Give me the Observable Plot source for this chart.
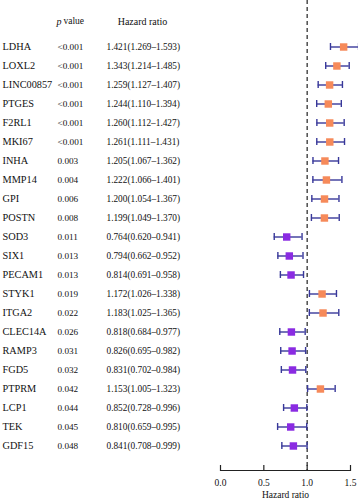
<!DOCTYPE html>
<html><head><meta charset="utf-8">
<script src="https://cdn.jsdelivr.net/npm/d3@7"></script>
<script src="https://cdn.jsdelivr.net/npm/@observablehq/plot@0.6"></script>
<style>body{margin:0;background:#fff}</style>
</head><body><div id="chart"></div>
<script>
const genes = ["LDHA","LOXL2","LINC00857","PTGES","F2RL1","MKI67","INHA","MMP14","GPI","POSTN","SOD3","SIX1","PECAM1","STYK1","ITGA2","CLEC14A","RAMP3","FGD5","PTPRM","LCP1","TEK","GDF15"];
const pvalues = ["<0.001","<0.001","<0.001","<0.001","<0.001","<0.001","0.003","0.004","0.006","0.008","0.011","0.013","0.013","0.019","0.022","0.026","0.031","0.032","0.042","0.044","0.045","0.048"];
const hr    = [1.421,1.343,1.259,1.244,1.260,1.261,1.205,1.222,1.200,1.199,0.764,0.794,0.814,1.172,1.183,0.818,0.826,0.831,1.153,0.852,0.810,0.841];
const lower = [1.269,1.214,1.127,1.110,1.112,1.111,1.067,1.066,1.054,1.049,0.620,0.662,0.691,1.026,1.025,0.684,0.695,0.702,1.005,0.728,0.659,0.708];
const upper = [1.593,1.485,1.407,1.394,1.427,1.431,1.362,1.401,1.367,1.370,0.941,0.952,0.958,1.338,1.365,0.977,0.982,0.984,1.323,0.996,0.995,0.999];
const xTicks = [0, 0.5, 1, 1.5];

const data = genes.map((g, i) => ({
  gene: g, p: pvalues[i], hr: hr[i], lo: lower[i], hi: upper[i],
  label: `${hr[i].toFixed(3)}(${lower[i].toFixed(3)}–${upper[i].toFixed(3)})`,
  group: hr[i] > 1 ? "risk" : "protective"
}));

const ff = "Liberation Serif";
const barColor = "#38389a";

const chart = Plot.plot({
  width: 358, height: 500,
  marginLeft: 220, marginRight: 8, marginTop: 0, marginBottom: 30,
  style: {fontFamily: ff, background: "white", color: "#111"},
  x: {domain: [0, 1.5]},
  y: {domain: genes, range: [27, 464], padding: 0, axis: null},
  color: {domain: ["risk", "protective"], range: ["#F68A5A", "#8A2BE2"]},
  marks: [
    Plot.ruleX([1], {stroke: "#333", strokeWidth: 1.3, strokeDasharray: "4,3"}),
    Plot.frame({anchor: "bottom", stroke: "#222", strokeWidth: 1.2}),
    Plot.tickX(xTicks, {x: d => d, insetTop: 465, stroke: "#222", strokeWidth: 1.2}),
    Plot.axisX({ticks: xTicks, tickFormat: ".1f", tickSize: 0, tickPadding: 9, fontSize: 9.5,
      label: "Hazard ratio", labelAnchor: "center", labelArrow: "none", labelOffset: 27}),
    Plot.ruleY(data, {y: "gene", x1: "lo", x2: "hi", stroke: barColor, strokeWidth: 1.4}),
    Plot.tickX(data, {x: "lo", y: "gene", insetTop: 6, insetBottom: 6, stroke: barColor, strokeWidth: 1.4}),
    Plot.tickX(data, {x: "hi", y: "gene", insetTop: 6, insetBottom: 6, stroke: barColor, strokeWidth: 1.4}),
    Plot.dot(data, {x: "hr", y: "gene", symbol: "square", r: 4.2, fill: "group"}),
    Plot.text(data, {y: "gene", text: "gene", frameAnchor: "left", dx: -218, textAnchor: "start", fontSize: 10.3}),
    Plot.text(data, {y: "gene", text: "p", frameAnchor: "left", dx: -163, textAnchor: "start", fontSize: 9.2}),
    Plot.text(data, {y: "gene", text: "label", frameAnchor: "left", dx: -114, textAnchor: "start", fontSize: 9.3}),
    Plot.text(["p"], {frameAnchor: "top-left", dx: -164, dy: 17, textAnchor: "start", fontSize: 10, fontStyle: "italic"}),
    Plot.text(["value"], {frameAnchor: "top-left", dx: -157, dy: 17, textAnchor: "start", fontSize: 9.5}),
    Plot.text(["Hazard ratio"], {frameAnchor: "top-left", dx: -78, dy: 17, textAnchor: "middle", fontSize: 10})
  ]
});
document.getElementById("chart").append(chart);
</script>
</body></html>
